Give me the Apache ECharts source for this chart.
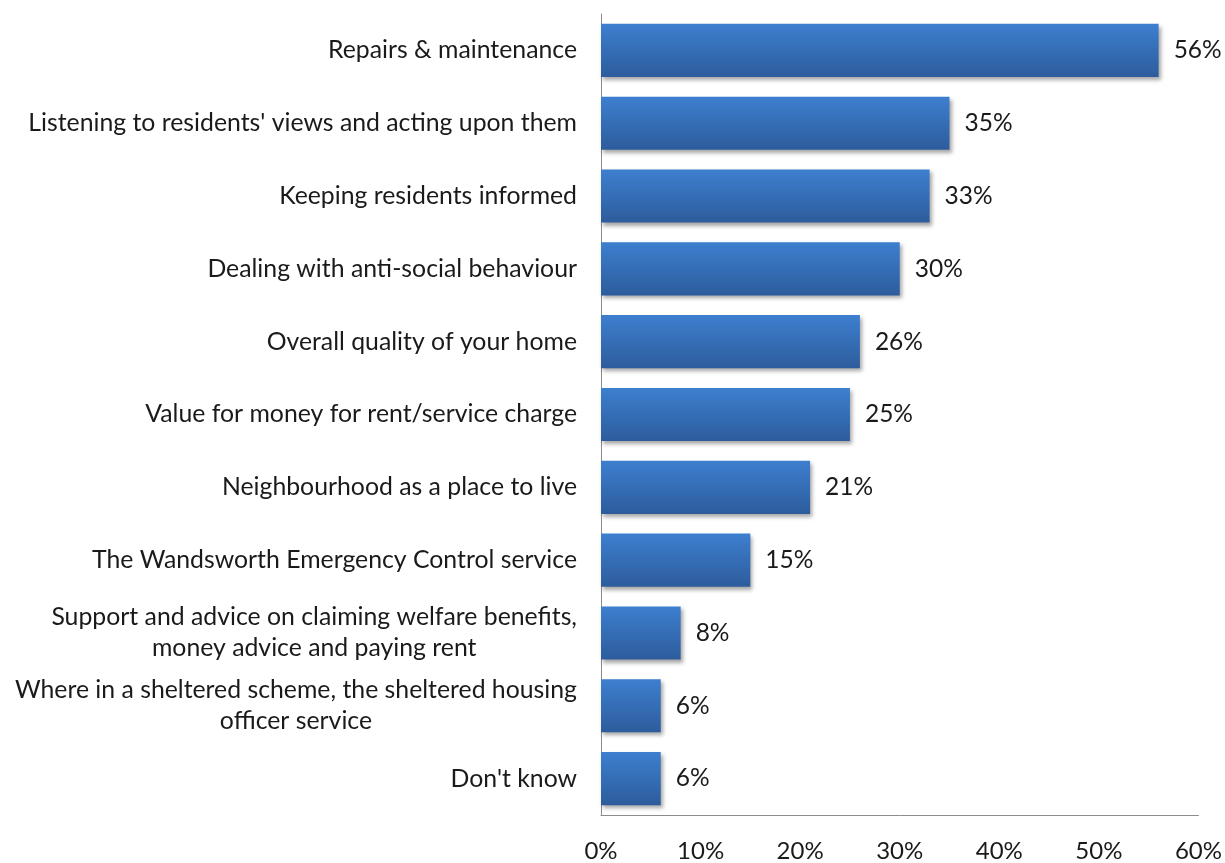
<!DOCTYPE html>
<html><head><meta charset="utf-8">
<script src="https://cdn.jsdelivr.net/npm/echarts@6/dist/echarts.min.js"></script>
<style>html,body{margin:0;padding:0;background:#fff}#c{width:1225px;height:863px}</style>
</head><body><div id="c"></div>
<script>
const categories = [
  "Repairs & maintenance",
  "Listening to residents' views and acting upon them",
  "Keeping residents informed",
  "Dealing with anti-social behaviour",
  "Overall quality of your home",
  "Value for money for rent/service charge",
  "Neighbourhood as a place to live",
  "The Wandsworth Emergency Control service",
  "Support and advice on claiming welfare benefits,\nmoney advice and paying rent",
  "Where in a sheltered scheme, the sheltered housing\nofficer service",
  "Don't know"
];
const values = [56, 35, 33, 30, 26, 25, 21, 15, 8, 6, 6];
const xTicks = [0, 10, 20, 30, 40, 50, 60];

const FONT = 'Lato';
const chart = echarts.init(document.getElementById('c'));
chart.setOption({
  backgroundColor: '#fff',
  animation: false,
  grid: {left: 601, right: 26, top: 14, bottom: 48, containLabel: false},
  xAxis: {
    type: 'value', min: xTicks[0], max: xTicks[xTicks.length-1], interval: 10,
    axisLine: {show: true, lineStyle: {color: '#8c8c8c', width: 1}},
    axisTick: {show: false},
    splitLine: {show: false},
    axisLabel: {formatter: v => v + '%', fontFamily: FONT, fontSize: 24, color: '#1a1a1a', margin: 24}
  },
  yAxis: {
    type: 'category', inverse: true, data: categories,
    axisLine: {show: true, lineStyle: {color: '#8c8c8c', width: 1}},
    axisTick: {show: false},
    axisLabel: {
      fontFamily: FONT, fontSize: 24.8, color: '#1a1a1a', margin: 24, lineHeight: 31,
      formatter: v => v.split('\n').map(s => '{c|' + s + '}').join('\n'),
      rich: {c: {align: 'center', fontFamily: FONT, fontSize: 24.8, color: '#1a1a1a', lineHeight: 31}}
    }
  },
  series: [{
    type: 'bar', data: values, barCategoryGap: '27%',
    itemStyle: {
      color: new echarts.graphic.LinearGradient(0, 0, 0, 1, [
        {offset: 0, color: '#3d7fcf'},
        {offset: 1, color: '#2d5c9c'}
      ]),
      shadowColor: 'rgba(0,0,0,0.35)', shadowBlur: 4, shadowOffsetX: 2, shadowOffsetY: 3
    },
    label: {show: true, position: 'right', distance: 15, formatter: p => p.value + '%',
      fontFamily: FONT, fontSize: 24.5, color: '#1a1a1a'}
  }]
});
</script></body></html>
